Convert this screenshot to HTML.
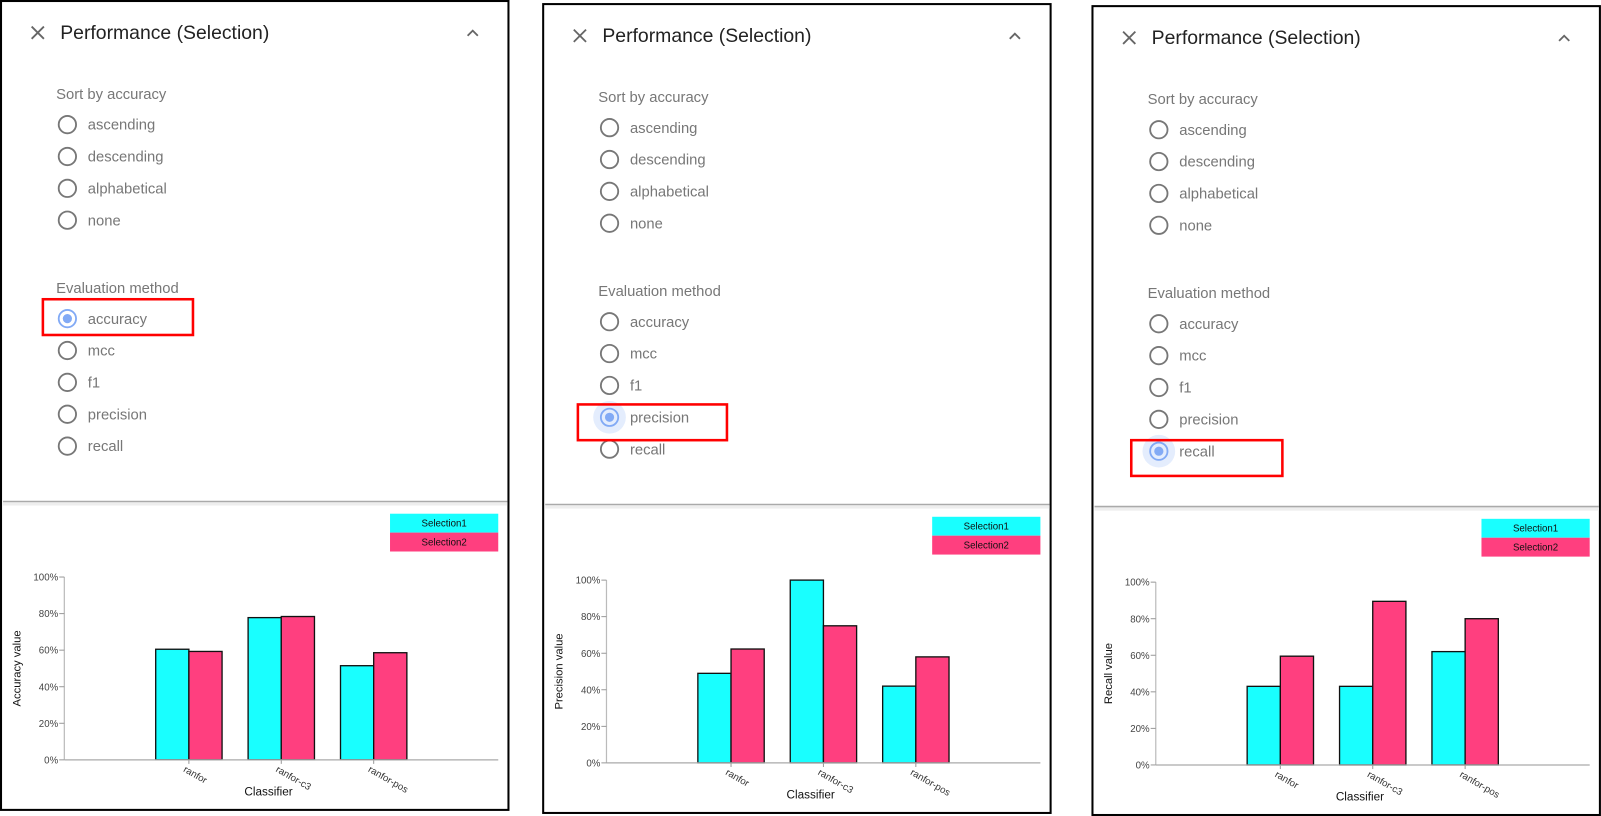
<!DOCTYPE html>
<html><head><meta charset="utf-8">
<style>
html,body{margin:0;padding:0;background:#fff;overflow:hidden;width:1601px;height:815px}
#wrap{position:absolute;left:0;top:0;width:1568px;height:798px;transform-origin:0 0;transform:scale(1.0210,1.0213)}
.panel{position:absolute;width:499px;height:794px;box-sizing:border-box;border:2px solid #000;background:#fff}
svg{position:absolute;left:-2px;top:-2px}
text{font-family:"Liberation Sans",sans-serif}
</style></head>
<body>
<div id="wrap"></div>
<script>
const categories = ["ranfor","ranfor-c3","ranfor-pos"];
const accuracyS1 = [60.5, 77.8, 51.5];
const accuracyS2 = [59.3, 78.4, 58.6];
const precisionS1 = [49, 100, 42];
const precisionS2 = [62.3, 75, 58];
const recallS1 = [43, 43, 62];
const recallS2 = [59.5, 89.5, 80];
const tickValues = [0, 20, 40, 60, 80, 100];
const tickLabels = ["0%","20%","40%","60%","80%","100%"];
const sortOptions = ["ascending","descending","alphabetical","none"];
const evalOptions = ["accuracy","mcc","f1","precision","recall"];
const seriesNames = ["Selection1","Selection2"];

const panels = [
  {left:0, top:0, title:"Accuracy value", s1:accuracyS1, s2:accuracyS2, sel:0, halo:false, box:[42,293,147,35]},
  {left:531, top:3, title:"Precision value", s1:precisionS1, s2:precisionS2, sel:3, halo:true, box:[35,393,146,35]},
  {left:1069, top:5, title:"Recall value", s1:recallS1, s2:recallS2, sel:4, halo:true, box:[39,426,148,35]}
];
const NS = "http://www.w3.org/2000/svg";
function mk(tag, attrs, parent, txt){
  const e = document.createElementNS(NS, tag);
  for (const k in attrs) e.setAttribute(k, attrs[k]);
  if (txt !== undefined) e.textContent = txt;
  parent.appendChild(e);
  return e;
}
const wrap = document.getElementById('wrap');
const y0 = 744, yH = 179;
function yScale(v){ return y0 - v/100*yH; }
function xCenter(i){ return 185 + i*90.5; }
const barW = 32.5;

panels.forEach((p, pi) => {
  const div = document.createElement('div');
  div.className = 'panel';
  div.style.left = p.left + 'px';
  div.style.top = p.top + 'px';
  
  
  wrap.appendChild(div);
  const svg = mk('svg', {width:499, height:794}, div);

  const closeIcon = mk('path', {d:'M31 26 L43 38 M43 26 L31 38', stroke:'#666', 'stroke-width':1.8, fill:'none'}, svg);
  
  
  const title = mk('text', {x:59, y:38, 'font-size':19, fill:'#222'}, svg, 'Performance (Selection)');
  
  
  const chev = mk('path', {d:'M458 35 L463 30 L468 35', stroke:'#666', 'stroke-width':1.8, fill:'none'}, svg);
  
  

  const sortLabel = mk('text', {x:55, y:97, 'font-size':14.5, fill:'#777'}, svg, 'Sort by accuracy');
  
  
  sortOptions.forEach((o, i) => {
    const cy = 122 + i*31.2;
    const r = mk('circle', {cx:66, cy:cy, r:8.5, fill:'none', stroke:'#777', 'stroke-width':1.8}, svg);
    
    
    const t = mk('text', {x:86, y:cy+5, 'font-size':14.5, fill:'#777'}, svg, o);
    
    
  });
  const evalLabel = mk('text', {x:55, y:287, 'font-size':14.5, fill:'#777'}, svg, 'Evaluation method');
  
  
  evalOptions.forEach((o, i) => {
    const cy = 312 + i*31.2;
    const selected = i === p.sel;
    if (selected && p.halo) {
      const h = mk('circle', {cx:66, cy:cy, r:16, fill:'#e4edfd'}, svg);
      
      
    }
    const r = mk('circle', {cx:66, cy:cy, r:8.5, fill:'none', stroke:selected?'#82aaf5':'#777', 'stroke-width':1.8}, svg);
    
    
    if (selected) {
      const d = mk('circle', {cx:66, cy:cy, r:4.5, fill:'#82aaf5'}, svg);
      
      
    }
    const t = mk('text', {x:86, y:cy+5, 'font-size':14.5, fill:'#777'}, svg, o);
    
    
  });
  const box = mk('rect', {x:p.box[0], y:p.box[1], width:p.box[2], height:p.box[3], fill:'none', stroke:'#f00', 'stroke-width':2.5}, svg);
  
  

  mk('rect', {x:3, y:492, width:494, height:3, fill:'#eee'}, svg);
  const div2 = mk('line', {x1:3, y1:491, x2:497, y2:491, stroke:'#aaa', 'stroke-width':1.5}, svg);
  
  

  const colors = ['#19ffff', '#ff3f7f'];
  seriesNames.forEach((s, i) => {
    const lr = mk('rect', {x:382, y:503 + i*18.5, width:106, height:18.5, fill:colors[i]}, svg);
    
    
    mk('text', {x:435, y:515.5 + i*18.5, 'font-size':9.5, fill:'#111', 'text-anchor':'middle'}, svg, s);
  });

  const ya = mk('line', {x1:63, y1:yScale(100), x2:63, y2:y0, stroke:'#bbb', 'stroke-width':1.2}, svg);
  
  
  tickValues.forEach((v, i) => {
    mk('line', {x1:58, y1:yScale(v), x2:63, y2:yScale(v), stroke:'#999', 'stroke-width':1}, svg);
    const tl = mk('text', {x:57, y:yScale(v)+3.5, 'font-size':9.5, fill:'#444', 'text-anchor':'end'}, svg, tickLabels[i]);
    
    
  });
  const yt = mk('text', {x:0, y:0, 'font-size':11, fill:'#111', 'text-anchor':'middle', transform:'translate(20,' + (y0 - yH/2) + ') rotate(-90)'}, svg, p.title);
  
  

  categories.forEach((c, i) => {
    const cx = xCenter(i);
    const b1 = mk('rect', {x:cx-barW, y:yScale(p.s1[i]), width:barW, height:y0-yScale(p.s1[i]), fill:'#19ffff', stroke:'#111', 'stroke-width':1.3}, svg);
    
    
    const b2 = mk('rect', {x:cx, y:yScale(p.s2[i]), width:barW, height:y0-yScale(p.s2[i]), fill:'#ff3f7f', stroke:'#111', 'stroke-width':1.3}, svg);
    
    
    mk('line', {x1:cx, y1:y0, x2:cx, y2:y0+4, stroke:'#999'}, svg);
    const xl = mk('text', {x:0, y:0, 'font-size':9.5, fill:'#333', transform:'translate(' + (cx-6) + ',' + (y0+11) + ') rotate(30)'}, svg, c);
    
    
  });
  const xa = mk('line', {x1:63, y1:y0, x2:488, y2:y0, stroke:'#aaa', 'stroke-width':1.2}, svg);
  
  
  const xt = mk('text', {x:263, y:779, 'font-size':11.5, fill:'#111', 'text-anchor':'middle'}, svg, 'Classifier');
  
  
});
</script>
</body></html>
